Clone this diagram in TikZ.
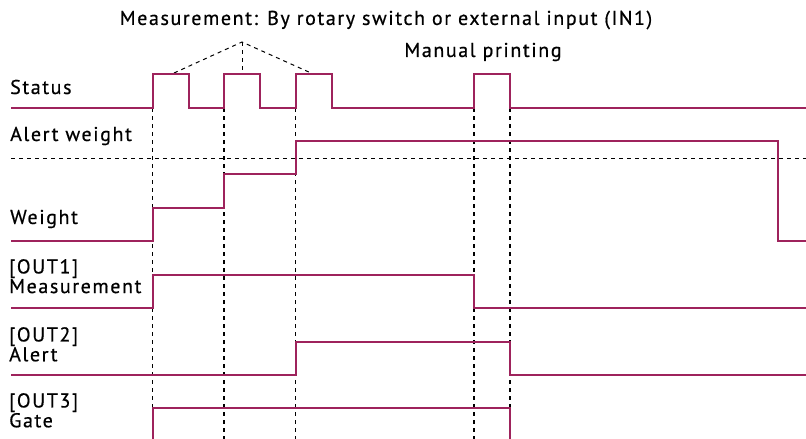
\documentclass[tikz,border=0pt]{standalone}
\usepackage{fontspec}
\setmainfont{PT Sans}[LetterSpace=8,FakeBold=0.6]
\begin{document}
\begin{tikzpicture}[x=1pt,y=-1pt,
  sig/.style={draw=sigcol,line width=1.8pt,line join=miter},
  guide/.style={draw=black,line width=1.2pt,dash pattern=on 4pt off 4pt},
  lbl/.style={anchor=west,inner sep=0pt,font=\fontsize{20}{20}\selectfont},
  lbl2/.style={anchor=north west,inner sep=0pt,align=left,font=\fontsize{20}{16.5}\selectfont},
  ttl/.style={inner sep=0pt,font=\fontsize{20}{20}\selectfont}]
\definecolor{sigcol}{RGB}{158,35,92}
\useasboundingbox (0,0) rectangle (806,439);

% annotations
\node[ttl] (meas) at (386,20) {Measurement: By rotary switch or external input (IN1)};
\node[ttl] (man) at (483,52) {Manual printing};
\coordinate (apex) at (242,42);
\coordinate (p1) at (174,73);
\coordinate (p2) at (242,74);
\coordinate (p3) at (311,73);
\draw[guide,line width=1pt] (p1) -- (apex) -- (p3);
\draw[guide,line width=1pt] (apex) -- (p2);

% signal labels
\node[lbl] (lstatus) at (10,87) {Status};
\node[lbl] (lalert) at (10,136) {Alert weight};
\node[lbl] (lweight) at (10,219) {Weight};
\node[lbl2] (lout1) at (9,259) {[OUT1]\\Measurement};
\node[lbl2] (lout2) at (9,327) {[OUT2]\\Alert};
\node[lbl2] (lout3) at (9,393) {[OUT3]\\Gate};

% timing guides
\foreach \t in {152.7,224,295.7,474,510}
  \draw[guide] (\t,108) -- (\t,439);
\draw[guide] (11,158.3) -- (806,158.3);

% waveforms
\draw[sig] (11,107.7) -| (152.7,74.3) -| (188.7,107.7) -| (224,74.3) -| (260.3,107.7)
  -| (295.7,74.3) -| (331.7,107.7) -| (474,74.3) -| (510,107.7) -- (806,107.7);
\draw[sig] (11,241) -| (152.7,208.3) -| (224,174.3) -| (295.7,141.3) -| (777.7,241) -- (806,241);
\draw[sig] (11,308.3) -| (152.7,275) -| (474,308.3) -- (806,308.3);
\draw[sig] (11,375) -| (295.7,341.7) -| (510,375) -- (806,375);
\draw[sig] (152.7,439) |- (510,408.3) -- (510,439);
\end{tikzpicture}
\end{document}
